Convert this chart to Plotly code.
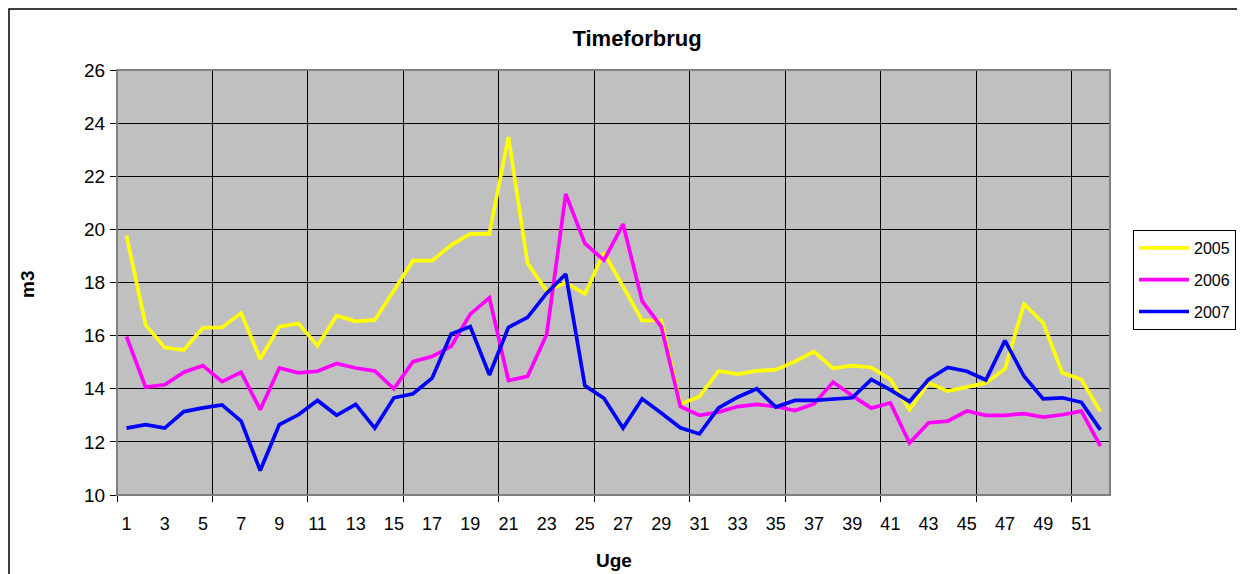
import plotly.graph_objects as go

weeks = list(range(1, 53))
series_names = ["2005", "2006", "2007"]
y2005 = [19.76, 16.40, 15.55, 15.46, 16.29, 16.31, 16.85, 15.12, 16.34, 16.46,
         15.62, 16.75, 16.54, 16.59, 17.70, 18.82, 18.82, 19.41, 19.83, 19.83,
         23.48, 18.72, 17.68, 17.99, 17.57, 19.12, 17.85, 16.57, 16.57, 13.43,
         13.70, 14.67, 14.55, 14.67, 14.72, 15.02, 15.40, 14.77, 14.87, 14.80,
         14.35, 13.21, 14.22, 13.91, 14.06, 14.22, 14.75, 17.19, 16.48, 14.60,
         14.35, 13.14]
y2006 = [15.96, 14.06, 14.15, 14.62, 14.87, 14.27, 14.62, 13.21, 14.78, 14.60,
         14.66, 14.95, 14.78, 14.67, 14.00, 15.02, 15.21, 15.60, 16.81, 17.42,
         14.31, 14.47, 16.04, 21.33, 19.47, 18.84, 20.20, 17.30, 16.34, 13.33,
         13.00, 13.12, 13.33, 13.41, 13.33, 13.18, 13.43, 14.25, 13.74, 13.27,
         13.47, 11.96, 12.72, 12.78, 13.16, 13.00, 13.00, 13.06, 12.93, 13.02,
         13.16, 11.84]
y2007 = [12.52, 12.65, 12.52, 13.14, 13.28, 13.39, 12.78, 10.92, 12.65, 13.02,
         13.56, 13.00, 13.41, 12.52, 13.66, 13.81, 14.40, 16.06, 16.34, 14.52,
         16.31, 16.69, 17.60, 18.32, 14.12, 13.64, 12.52, 13.62, 13.09, 12.53,
         12.30, 13.28, 13.68, 14.00, 13.31, 13.56, 13.56, 13.62, 13.66, 14.35,
         13.96, 13.52, 14.35, 14.80, 14.66, 14.33, 15.81, 14.47, 13.62, 13.66,
         13.49, 12.45]
colors = ["#FFFF00", "#FF00FF", "#0000FF"]

FONT = "Liberation Sans, Arial, sans-serif"
W, H = 1245, 574
# plot area in figure px (page has an 8px body margin)
L, R, T, B = 109, 1102, 62, 487

fig = go.Figure()
for name, ys, c in zip(series_names, [y2005, y2006, y2007], colors):
    fig.add_trace(go.Scatter(x=weeks, y=ys, mode="lines", name=name,
                             legendgroup=name,
                             line=dict(color=c, width=3.7)))
# empty helper trace so the secondary x axis (vertical grid every 5 weeks) is drawn
fig.add_trace(go.Scatter(x=[], y=[], xaxis="x2", showlegend=False,
                         hoverinfo="skip"))


def px_x(x):
    return (x - L) / (R - L)


def px_y(y):
    return (B - y) / (B - T)


fig.update_layout(
    width=W, height=H,
    margin=dict(l=L, r=W - R, t=T, b=H - B, pad=0),
    paper_bgcolor="white",
    plot_bgcolor="#C0C0C0",
    font=dict(family=FONT, size=18, color="black"),
    title=dict(text="<b>Timeforbrug</b>", font=dict(size=22, family=FONT),
               xref="container", yref="container",
               x=629 / W, y=1 - 30 / H, xanchor="center", yanchor="middle"),
    showlegend=True,
    legend=dict(x=px_x(1125), y=px_y(222), xanchor="left", yanchor="top",
                bordercolor="black", borderwidth=1, bgcolor="white",
                font=dict(size=16, family=FONT), itemwidth=50,
                traceorder="grouped", tracegroupgap=8),
    xaxis=dict(range=[0.5, 52.5], tickmode="linear", tick0=1, dtick=2,
               showgrid=False, zeroline=False, showline=True,
               linecolor="black", linewidth=1, ticks="",
               ticklabelstandoff=12, tickfont=dict(size=18)),
    xaxis2=dict(range=[0.5, 52.5], overlaying="x", anchor="y", side="bottom",
                tickmode="linear", tick0=0.5, dtick=5, showticklabels=False,
                showgrid=True, gridcolor="black", gridwidth=1,
                ticks="outside", ticklen=6, tickcolor="black",
                zeroline=False, showline=False),
    yaxis=dict(range=[10, 26], tickmode="linear", tick0=10, dtick=2,
               showgrid=True, gridcolor="black", gridwidth=1,
               zeroline=False, showline=True, linecolor="black", linewidth=1,
               ticks="outside", ticklen=6, tickcolor="black",
               ticklabelstandoff=1, tickfont=dict(size=19)),
    annotations=[
        dict(text="<b>Uge</b>", xref="paper", yref="paper",
             x=0.5, y=px_y(552), xanchor="center", yanchor="middle",
             showarrow=False, font=dict(size=19, family=FONT)),
        dict(text="<b>m3</b>", xref="paper", yref="paper",
             x=px_x(19), y=px_y(277), xanchor="center", yanchor="middle",
             textangle=-90, showarrow=False, font=dict(size=19, family=FONT)),
    ],
    shapes=[
        # plot area border (grey top/right)
        dict(type="rect", xref="paper", yref="paper", x0=0, x1=1, y0=0, y1=1,
             line=dict(color="#808080", width=2), layer="above"),
        # outer chart frame
        dict(type="rect", xref="paper", yref="paper",
             x0=px_x(1), x1=px_x(W + 20), y0=px_y(H + 20), y1=px_y(1),
             line=dict(color="black", width=1.5), layer="above"),
    ],
)

fig.write_html("out.html")
